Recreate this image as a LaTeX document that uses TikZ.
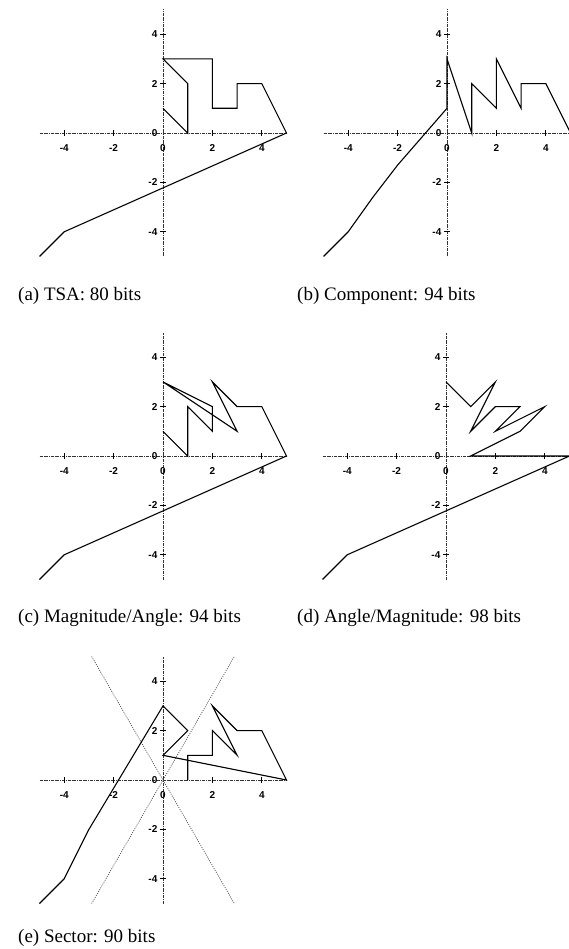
\documentclass[tikz,border=0pt]{standalone}
\usepackage{fontspec}
\setmainfont{Liberation Serif}
\newfontfamily\ticksfont{Liberation Sans}
\begin{document}
\begin{tikzpicture}[
  axisline/.style={line width=0.75pt, black!80, dash pattern=on 3pt off 1pt on 0.6pt off 1pt},
  tickmark/.style={line width=0.9pt, black},
  ticklabel/.style={font=\ticksfont\bfseries\fontsize{10}{11}\selectfont, inner sep=0.5pt},
  curveline/.style={line width=1.1pt, black, line join=miter},
  sectorline/.style={line width=0.7pt, black!70, dash pattern=on 1pt off 1.2pt},
  captiontext/.style={font=\fontsize{19}{21}\selectfont, anchor=base west, inner sep=0pt}
]
\useasboundingbox[fill=white] (0pt,0pt) rectangle (568pt,-949pt);

\newcommand\drawaxes[1]{%
  \draw[axisline] (-5,0) -- (5,0);
  \draw[axisline] (0,-5) -- (0,5);
  \foreach \v in {-4,-2,2,4} {
    \draw[tickmark] (\v,-0.11) -- (\v,0.11);
    \draw[tickmark] (-0.11,\v) -- (0.11,\v);
  }
  \foreach \v/\n in {-4/m4,-2/m2,0/z,2/p2,4/p4} {
    \node[ticklabel] (#1x\n) at (\v,-0.62) {\v};
  }
  \foreach \v/\n in {-4/m4,-2/m2,0/z,2/p2,4/p4} {
    \node[ticklabel, anchor=east] (#1y\n) at (-0.2,\v) {\v};
  }
}

% (a) TSA
\begin{scope}[shift={(163pt,-133pt)}, x=24.7pt, y=24.7pt]
  \drawaxes{a}
  \draw[curveline] (-5,-5) -- (-4,-4) -- (5,0) -- (4,2) -- (3,2) -- (3,1) -- (2,1) -- (2,3) -- (0,3) -- (1,2) -- (1,0) -- (0,1);
\end{scope}

% (b) Component
\begin{scope}[shift={(447pt,-133pt)}, x=24.7pt, y=24.7pt]
  \drawaxes{b}
  \draw[curveline] (-5,-5) -- (-4,-4) -- (-3,-2.6) -- (-2,-1.3) -- (-1,-0.15) -- (0,1) -- (0,3) -- (1,0) -- (1,2) -- (2,1) -- (2,3) -- (3,1) -- (3,2) -- (4,2) -- (5,0);
\end{scope}

% (c) Magnitude/Angle
\begin{scope}[shift={(163pt,-456pt)}, x=24.7pt, y=24.7pt]
  \drawaxes{c}
  \draw[curveline] (-5,-5) -- (-4,-4) -- (5,0) -- (4,2) -- (3,2) -- (2,3) -- (3,1) -- (0,3) -- (2,2) -- (2,1) -- (1,2) -- (1,0) -- (0,1);
\end{scope}

% (d) Angle/Magnitude
\begin{scope}[shift={(446pt,-456pt)}, x=24.7pt, y=24.7pt]
  \drawaxes{d}
  \draw[curveline] (-5,-5) -- (-4,-4) -- (5,0) -- (1,0) -- (3,1) -- (4,2) -- (2,1) -- (3,2) -- (2,2) -- (1,1) -- (2,3) -- (1,2) -- (0,3);
\end{scope}

% (e) Sector
\begin{scope}[shift={(163pt,-780pt)}, x=24.7pt, y=24.7pt]
  \drawaxes{e}
  \draw[sectorline] (-2.887,5) -- (2.887,-5);
  \draw[sectorline] (-2.887,-5) -- (2.887,5);
  \draw[curveline] (-5,-5) -- (-4,-4) -- (-3,-2) -- (0,3) -- (1,2) -- (0,1) -- (5,0) -- (4,2) -- (3,2) -- (2,3) -- (3,1) -- (2,2) -- (2,1) -- (1,1) -- (1,0);
\end{scope}

% captions
\node[captiontext] (capa) at (18pt,-300pt) {(a) TSA: 80 bits};
\node[captiontext] (capb) at (297pt,-300pt) {(b) Component: 94 bits};
\node[captiontext] (capc) at (18pt,-622pt) {(c) Magnitude/Angle: 94 bits};
\node[captiontext] (capd) at (297pt,-622pt) {(d) Angle/Magnitude: 98 bits};
\node[captiontext] (cape) at (18pt,-942pt) {(e) Sector: 90 bits};
\end{tikzpicture}
\end{document}
